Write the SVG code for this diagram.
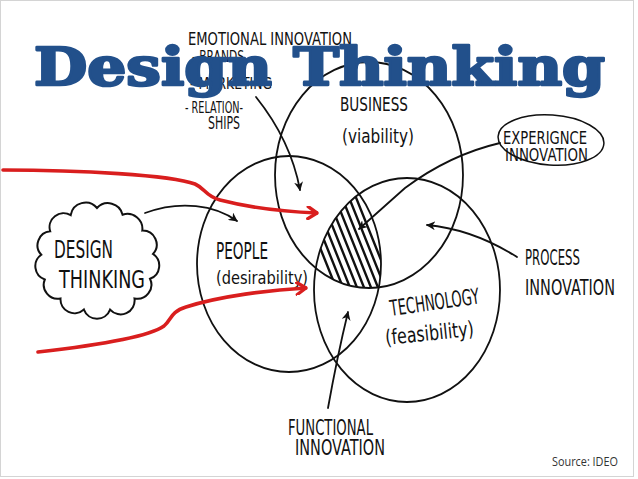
<svg xmlns="http://www.w3.org/2000/svg" width="638" height="479" viewBox="0 0 638 479">
<style>
.hand{font-family:"DejaVu Sans","Liberation Sans",sans-serif;fill:#111;}
.circ{fill:none;stroke:#111;stroke-width:1.8;}
.blk{fill:none;stroke:#111;stroke-width:1.8;stroke-linecap:round;}
.red{fill:none;stroke:#d91e1e;stroke-width:3.6;stroke-linecap:round;stroke-linejoin:round;}
.hatch{stroke:#111;stroke-width:2.4;stroke-linecap:round;}
.title{font-family:"DejaVu Serif","Liberation Serif",serif;font-weight:bold;fill:#22508b;stroke:#22508b;stroke-width:2.6;stroke-linejoin:round;}
</style>
<defs>
<marker id="ah" viewBox="0 0 10 10" refX="9" refY="5" markerWidth="9" markerHeight="9" markerUnits="userSpaceOnUse" orient="auto">
<path d="M0,0 L10,5 L0,10 L3,5 Z" fill="#111"/>
</marker>
<marker id="ahr" viewBox="0 0 12 14" refX="11" refY="7" markerWidth="12" markerHeight="14" markerUnits="userSpaceOnUse" orient="auto">
<path d="M2,1 L11,7 L2,13" fill="none" stroke="#d91e1e" stroke-width="3.4" stroke-linecap="round" stroke-linejoin="round"/>
</marker>
<clipPath id="cB"><ellipse cx="369" cy="175" rx="94" ry="113"/></clipPath>
<clipPath id="cP"><ellipse cx="289" cy="264" rx="92" ry="108"/></clipPath>
<clipPath id="cT"><ellipse cx="407" cy="290" rx="93" ry="112"/></clipPath>
</defs>
<rect x="0" y="0" width="638" height="479" fill="#fff"/>
<rect x="0.5" y="0.5" width="633" height="476" fill="none" stroke="#d4d4d4" stroke-width="1"/>

<g id="business">
<ellipse class="circ" cx="369" cy="175" rx="94" ry="113"/>
<text class="hand" x="340" y="111" font-size="20" textLength="68" lengthAdjust="spacingAndGlyphs">BUSINESS</text>
<text class="hand" x="342" y="143" font-size="20" textLength="72" lengthAdjust="spacingAndGlyphs">(viability)</text>
</g>
<g id="people">
<ellipse class="circ" cx="289" cy="264" rx="92" ry="108"/>
<text class="hand" x="216" y="259" font-size="23" textLength="52" lengthAdjust="spacingAndGlyphs">PEOPLE</text>
<text class="hand" x="216" y="284" font-size="18" textLength="92" lengthAdjust="spacingAndGlyphs">(desirability)</text>
</g>
<g id="technology">
<ellipse class="circ" cx="407" cy="290" rx="93" ry="112"/>
<text class="hand" x="391" y="316" font-size="22" textLength="90" lengthAdjust="spacingAndGlyphs" transform="rotate(-8 391 316)">TECHNOLOGY</text>
<text class="hand" x="386" y="345" font-size="21" textLength="89" lengthAdjust="spacingAndGlyphs" transform="rotate(-6 386 345)">(feasibility)</text>
</g>
<g id="overlap">
<g clip-path="url(#cB)"><g clip-path="url(#cP)"><g clip-path="url(#cT)">
<path class="hatch" d="M297,190 L337,290 M304,190 L344,290 M311,190 L351,290 M318,190 L358,290 M325,190 L365,290 M332,190 L372,290 M339,190 L379,290 M346,190 L386,290 M353,190 L393,290"/>
</g></g></g>
</g>

<g id="design-thinking-cloud">
<path d="M97,208 A15,15 0 0 1 122.6,214.7 A15,15 0 0 1 142.3,230.6 A14,14 0 0 1 153,254 A14,14 0 0 1 150,278.8 A14,14 0 0 1 134.5,298.5 A14,14 0 0 1 110.1,309.6 A14,14 0 0 1 83.9,309.6 A14,14 0 0 1 60.5,298.5 A14,14 0 0 1 44.8,279.5 A14,14 0 0 1 41.3,254.8 A14,14 0 0 1 50.2,231.3 A14,14 0 0 1 70.7,215.1 A15,15 0 0 1 97,208 Z" fill="none" stroke="#111" stroke-width="2"/>
<text class="hand" x="54" y="258" font-size="25" textLength="59" lengthAdjust="spacingAndGlyphs">DESIGN</text>
<text class="hand" x="59" y="288" font-size="24" textLength="86" lengthAdjust="spacingAndGlyphs">THINKING</text>
</g>

<g id="emotional-innovation">
<text class="hand" x="188" y="45" font-size="17" textLength="164" lengthAdjust="spacingAndGlyphs">EMOTIONAL INNOVATION</text>
<text class="hand" x="192" y="62" font-size="15" textLength="52" lengthAdjust="spacingAndGlyphs">- BRANDS</text>
<text class="hand" x="190" y="89" font-size="15" textLength="82" lengthAdjust="spacingAndGlyphs">- MARKETING</text>
<text class="hand" x="185" y="113" font-size="16" textLength="58" lengthAdjust="spacingAndGlyphs">- RELATION-</text>
<text class="hand" x="208" y="129" font-size="17" textLength="32" lengthAdjust="spacingAndGlyphs">SHIPS</text>
</g>

<g id="experience-innovation">
<ellipse cx="551" cy="140" rx="53" ry="25" fill="none" stroke="#111" stroke-width="1.5" transform="rotate(4 551 140)"/>
<text class="hand" x="503" y="144" font-size="17" textLength="84" lengthAdjust="spacingAndGlyphs">EXPERIGNCE</text>
<text class="hand" x="505" y="161" font-size="17" textLength="83" lengthAdjust="spacingAndGlyphs">INNOVATION</text>
</g>

<g id="process-innovation">
<text class="hand" x="525" y="265" font-size="21" textLength="55" lengthAdjust="spacingAndGlyphs">PROCESS</text>
<text class="hand" x="525" y="295" font-size="21" textLength="90" lengthAdjust="spacingAndGlyphs">INNOVATION</text>
</g>

<g id="functional-innovation">
<text class="hand" x="288" y="435" font-size="21" textLength="85" lengthAdjust="spacingAndGlyphs">FUNCTIONAL</text>
<text class="hand" x="295" y="455" font-size="21" textLength="90" lengthAdjust="spacingAndGlyphs">INNOVATION</text>
</g>

<g id="source">
<text x="552" y="466" font-family="Open Sans, Liberation Sans, sans-serif" font-size="12.5" fill="#333" textLength="66" lengthAdjust="spacingAndGlyphs">Source: IDEO</text>
</g>

<g id="connectors">
<path class="red" marker-end="url(#ahr)" d="M3,170 C80,170 170,175 195,184 C206,189 205,196 220,200 C255,209 290,212 317,213"/>
<path class="red" marker-end="url(#ahr)" d="M38,352 C100,345 150,336 164,326 C172,319 170,312 186,307 C220,296 270,290 306,288"/>
<path class="blk" marker-end="url(#ah)" d="M145,213 C180,200 215,205 237,221"/>
<path class="blk" marker-end="url(#ah)" d="M256,97 C276,122 293,152 300,190"/>
<path class="blk" marker-end="url(#ah)" d="M500,143 C470,150 440,162 405,188 L359,229"/>
<path class="blk" marker-end="url(#ah)" d="M517,257 C490,240 460,228 427,225"/>
<path class="blk" marker-end="url(#ah)" d="M328,408 C333,380 340,345 348,312"/>
</g>

<g id="title">
<text class="title" x="34" y="85" font-size="52" textLength="571" lengthAdjust="spacingAndGlyphs">Design Thinking</text>
</g>
</svg>
